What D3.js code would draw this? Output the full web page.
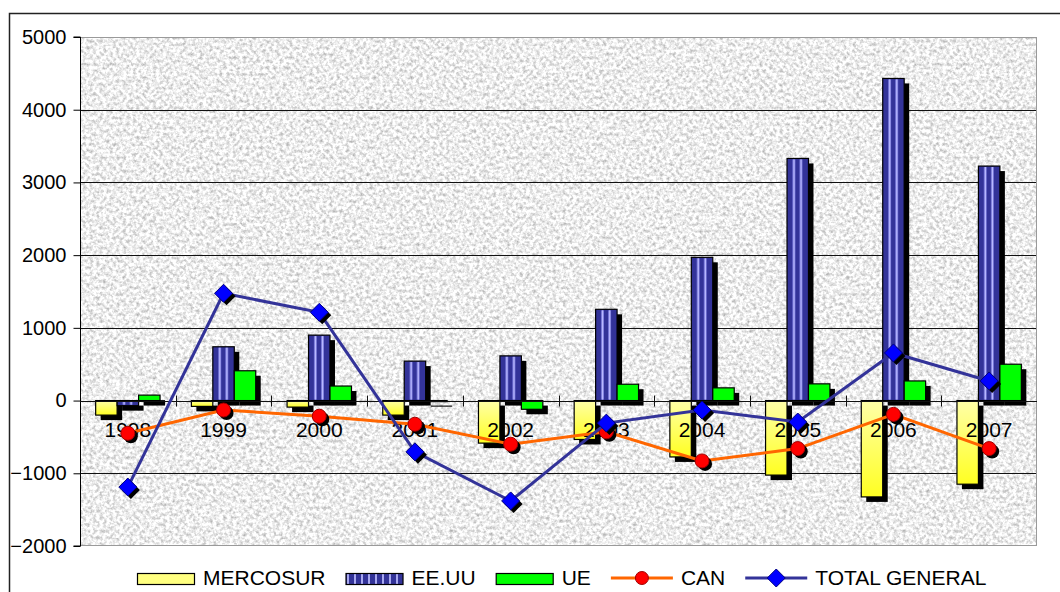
<!DOCTYPE html>
<html><head><meta charset="utf-8">
<script src="https://cdn.jsdelivr.net/npm/d3@7"></script>
<style>
html,body{margin:0;padding:0;background:#fff;}
text{font-family:"Liberation Sans",Arial,sans-serif;fill:#000;}
</style></head>
<body>
<svg id="chart" width="1060" height="592"></svg>
<script>
const years = ['1998','1999','2000','2001','2002','2003','2004','2005','2006','2007'];
const mercosur = [-200,-80,-90,-200,-585,-535,-775,-1025,-1325,-1150];
const eeuu = [-70,740,900,543,615,1255,1970,3330,4430,3225];
const ue = [75,410,200,-15,-120,225,175,230,270,500];
const can = [-450,-130,-215,-325,-600,-430,-830,-660,-190,-660];
const total = [-1190,1475,1213,-705,-1380,-310,-130,-295,655,270];
const yTicks = [-2000,-1000,0,1000,2000,3000,4000,5000];
const barSeries = ['MERCOSUR','EE.UU','UE'];
const lineSeries = ['CAN','TOTAL GENERAL'];

const svg = d3.select('#chart');
const L = 80, R = 1037, T = 37, B = 546;

// outer frame
svg.append('rect').attr('x',9.5).attr('y',13.5).attr('width',1200).attr('height',800)
  .attr('fill','none').attr('stroke','#222').attr('stroke-width',1.5);

const defs = svg.append('defs');
const f = defs.append('filter').attr('id','granite').attr('filterUnits','userSpaceOnUse')
  .attr('x',L).attr('y',T).attr('width',R-L).attr('height',B-T)
  .attr('color-interpolation-filters','sRGB');
f.append('feTurbulence').attr('type','fractalNoise').attr('baseFrequency','0.3').attr('numOctaves',3).attr('seed',7);
f.append('feColorMatrix').attr('type','matrix')
  .attr('values','0.6 0 0 0 0.63  0.6 0 0 0 0.63  0.6 0 0 0 0.63  0 0 0 0 1');

const yg = defs.append('linearGradient').attr('id','yellowGrad').attr('x1',0).attr('y1',0).attr('x2',0).attr('y2',1);
yg.append('stop').attr('offset','0%').attr('stop-color','#ffffa8');
yg.append('stop').attr('offset','100%').attr('stop-color','#ffff22');

const lp = defs.append('pattern').attr('id','legStripe').attr('patternUnits','userSpaceOnUse')
  .attr('x',0).attr('y',0).attr('width',7).attr('height',20);
lp.append('rect').attr('width',7).attr('height',20).attr('fill','#333399');
lp.append('rect').attr('x',4).attr('width',2).attr('height',20).attr('fill','#a8a8f0');

// plot background
svg.append('rect').attr('x',L).attr('y',T).attr('width',R-L).attr('height',B-T)
  .attr('fill','#ececec').attr('filter','url(#granite)');

const y = d3.scaleLinear().domain([-2000,5000]).range([B,T]);
const x = d3.scaleBand().domain(years).range([L,R]).paddingInner(0).paddingOuter(0);
const xs = d3.scaleBand().domain(barSeries).range([0,x.bandwidth()]).paddingInner(0).paddingOuter(0.73);

// gridlines
svg.append('g').selectAll('line').data(yTicks.filter(v=>v>-2000 && v<5000)).join('line')
  .attr('x1',L).attr('x2',R).attr('y1',d=>Math.round(y(d))+0.5).attr('y2',d=>Math.round(y(d))+0.5)
  .attr('stroke','#111').attr('stroke-width',1);

// plot border
svg.append('rect').attr('x',L+0.5).attr('y',T+0.5).attr('width',R-L-1).attr('height',B-T-1)
  .attr('fill','none').attr('stroke','#9a9a9a').attr('stroke-width',1);

// y axis
const yAxis = d3.axisLeft(y).tickValues(yTicks).tickSize(7).tickPadding(7).tickFormat(d3.format('d'));
const ya = svg.append('g').attr('transform',`translate(${L+0.5},0)`).call(yAxis);
ya.select('.domain').attr('stroke','#000').attr('d',`M-7,${B}H0V${T}H-7`);
ya.selectAll('.tick line').attr('stroke','#000');
ya.selectAll('.tick text').attr('font-size',20).attr('font-family','"Liberation Sans",Arial,sans-serif').attr('fill','#000');

const data = years.map((yr,i)=>({yr, MERCOSUR: mercosur[i], 'EE.UU': eeuu[i], UE: ue[i]}));
const y0 = y(0);
const sh = 5;

function barRect(d, s){
  const v = d[s];
  const xx = x(d.yr) + xs(s);
  const top = Math.min(y(v), y0), h = Math.abs(y(v)-y0);
  return {x:xx, y:top, w:xs.bandwidth(), h};
}

barSeries.forEach(s=>{
  const g = svg.append('g');
  const rects = data.map(d=>barRect(d,s));
  g.selectAll('rect.sh').data(rects).join('rect').attr('class','sh')
    .attr('x',r=>r.x+sh).attr('y',r=>r.y+sh).attr('width',r=>r.w).attr('height',r=>r.h).attr('fill','#000');
  const fill = s==='MERCOSUR' ? 'url(#yellowGrad)' : s==='UE' ? '#00ff00' : '#333399';
  g.selectAll('rect.bar').data(rects).join('rect').attr('class','bar')
    .attr('x',r=>r.x).attr('y',r=>r.y).attr('width',r=>r.w).attr('height',r=>r.h)
    .attr('fill',fill).attr('stroke','#000').attr('stroke-width',1.2);
  if (s==='EE.UU'){
    [0.25,0.58].forEach(o=>{
      g.selectAll(null).data(rects).join('rect')
        .attr('x',r=>r.x+r.w*o).attr('y',r=>r.y+1).attr('width',3).attr('height',r=>Math.max(0,r.h-2))
        .attr('fill','#7878d8');
      g.selectAll(null).data(rects).join('rect')
        .attr('x',r=>r.x+r.w*o+1).attr('y',r=>r.y+1).attr('width',1.2).attr('height',r=>Math.max(0,r.h-2))
        .attr('fill','#b8b8ff');
    });
  }
});

// zero axis with ticks
const za = svg.append('g');
za.append('line').attr('x1',L).attr('x2',R).attr('y1',Math.round(y0)+0.5).attr('y2',Math.round(y0)+0.5)
  .attr('stroke','#111').attr('stroke-width',1);
za.selectAll('line.t').data(years.slice(1)).join('line').attr('class','t')
  .attr('x1',d=>Math.round(x(d))+0.5).attr('x2',d=>Math.round(x(d))+0.5)
  .attr('y1',y0-5).attr('y2',y0+6).attr('stroke','#111');

// year labels
svg.append('g').selectAll('text').data(years).join('text')
  .attr('x',d=>x(d)+x.bandwidth()/2).attr('y',y0+36).attr('text-anchor','middle')
  .attr('font-size',21).text(d=>d);

// lines
const cx = i => x(years[i]) + x.bandwidth()/2;
const line = d3.line().x((d,i)=>cx(i)).y(d=>y(d));
svg.append('path').datum(can).attr('d',line).attr('fill','none').attr('stroke','#ff6600').attr('stroke-width',3);
svg.append('g').selectAll('circle').data(can).join('circle')
  .attr('cx',(d,i)=>cx(i)+3).attr('cy',d=>y(d)+3).attr('r',7).attr('fill','#000');
svg.append('g').selectAll('circle').data(can).join('circle')
  .attr('cx',(d,i)=>cx(i)).attr('cy',d=>y(d)).attr('r',7).attr('fill','#ff0000').attr('stroke','#a00000').attr('stroke-width',1);

svg.append('path').datum(total).attr('d',line).attr('fill','none').attr('stroke','#333399').attr('stroke-width',3);
const dia = (px,py,r)=>`M${px},${py-r}L${px+r},${py}L${px},${py+r}L${px-r},${py}Z`;
svg.append('g').selectAll('path').data(total).join('path')
  .attr('d',(d,i)=>dia(cx(i)+3,y(d)+3,9)).attr('fill','#000');
svg.append('g').selectAll('path').data(total).join('path')
  .attr('d',(d,i)=>dia(cx(i),y(d),9)).attr('fill','#0000ff').attr('stroke','#000080').attr('stroke-width',1);

// legend
const legItems = [
  {name:'MERCOSUR', type:'bar', fill:'#ffff80'},
  {name:'EE.UU', type:'bar', fill:'url(#legStripe)'},
  {name:'UE', type:'bar', fill:'#00ff00'},
  {name:'CAN', type:'line', stroke:'#ff6600', marker:'circle'},
  {name:'TOTAL GENERAL', type:'line', stroke:'#333399', marker:'diamond'}
];
const lg = svg.append('g');
let lx = 137; const ly = 578;
legItems.forEach(it=>{
  const g = lg.append('g');
  let sw;
  if (it.type==='bar'){
    sw = 58;
    g.append('rect').attr('x',lx+0.5).attr('y',ly-5+0.5).attr('width',sw-1).attr('height',11)
      .attr('fill',it.fill).attr('stroke','#000').attr('stroke-width',1.2);
  } else {
    sw = 62;
    g.append('line').attr('x1',lx).attr('x2',lx+sw).attr('y1',ly).attr('y2',ly).attr('stroke',it.stroke).attr('stroke-width',3);
    if (it.marker==='circle') g.append('circle').attr('cx',lx+sw/2).attr('cy',ly).attr('r',6.5).attr('fill','#ff0000').attr('stroke','#a00000');
    else g.append('path').attr('d',dia(lx+sw/2,ly,9)).attr('fill','#0000ff').attr('stroke','#000080');
  }
  const t = g.append('text').attr('x',lx+sw+8).attr('y',ly+7).attr('font-size',21).text(it.name);
  lx = lx + sw + 8 + t.node().getComputedTextLength() + 20;
});
</script>
</body></html>
